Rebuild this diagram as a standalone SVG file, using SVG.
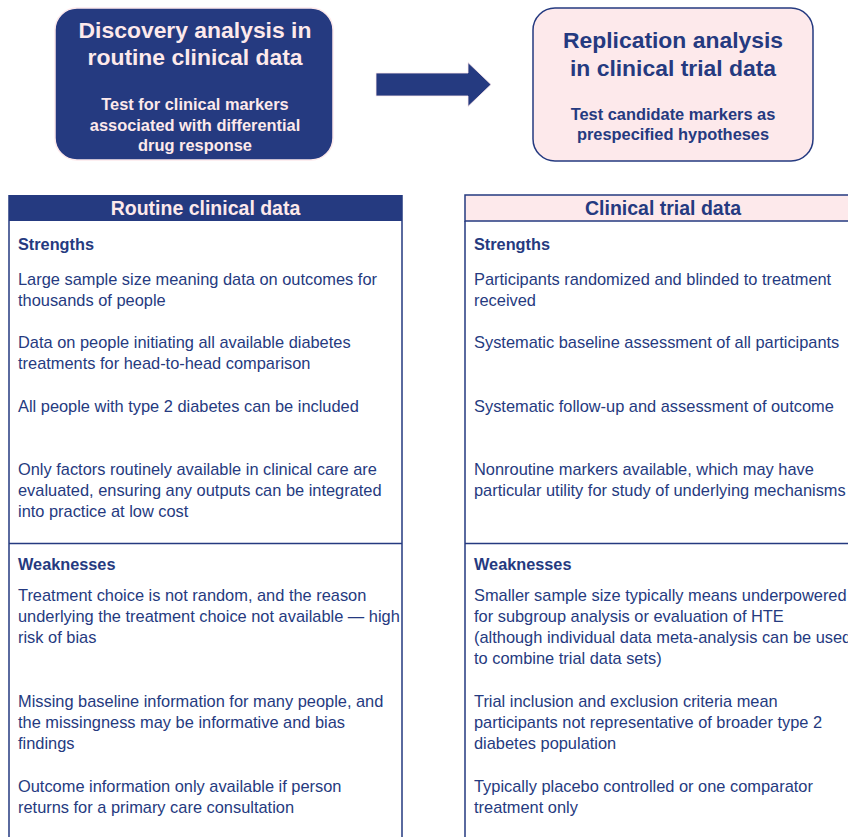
<svg xmlns="http://www.w3.org/2000/svg" width="848" height="837" viewBox="0 0 848 837">
  <style>
    .title { font-family: "Liberation Sans", Arial, sans-serif; font-weight: bold; font-size: 22.9px; text-anchor: middle; }
    .sub { font-family: "Liberation Sans", Arial, sans-serif; font-weight: bold; font-size: 16.4px; text-anchor: middle; }
    .head { font-family: "Liberation Sans", Arial, sans-serif; font-weight: bold; font-size: 19.5px; text-anchor: middle; }
    .sec { font-family: "Liberation Sans", Arial, sans-serif; font-weight: bold; font-size: 16.3px; fill: #253a80; }
    .body { font-family: "Liberation Sans", Arial, sans-serif; font-size: 16.4px; fill: #253a80; }
    .light { fill: #fde9eb; }
    .dark { fill: #253a80; }
    .rule { stroke: #253a80; stroke-width: 1.5; fill: none; }
  </style>
  <rect width="848" height="837" fill="#ffffff"/>

  <!-- Discovery box -->
  <g id="discovery">
    <rect x="55" y="8" width="278" height="152" rx="22" fill="#253a80" stroke="#fde9eb" stroke-width="1.5"/>
    <text class="title light" x="195" y="38">Discovery analysis in</text>
    <text class="title light" x="195" y="65">routine clinical data</text>
    <text class="sub light" x="195" y="110">Test for clinical markers</text>
    <text class="sub light" x="195" y="131">associated with differential</text>
    <text class="sub light" x="195" y="151">drug response</text>
  </g>

  <!-- Connector arrow -->
  <g id="connectors">
    <polygon points="376,73 468,73 468,62.5 491,84.5 468,106.5 468,96 376,96" fill="#253a80" stroke="#fde9eb" stroke-width="0.8"/>
  </g>

  <!-- Replication box -->
  <g id="replication">
    <rect x="533" y="8" width="280" height="153" rx="22" fill="#fde9eb" stroke="#253a80" stroke-width="1.5"/>
    <text class="title dark" x="673" y="48">Replication analysis</text>
    <text class="title dark" x="673" y="76">in clinical trial data</text>
    <text class="sub dark" x="673" y="120">Test candidate markers as</text>
    <text class="sub dark" x="673" y="140">prespecified hypotheses</text>
  </g>

  <!-- Routine clinical data table -->
  <g id="routine-table">
    <rect x="9" y="195" width="393" height="26" fill="#253a80"/>
    <text class="head light" x="205.5" y="215">Routine clinical data</text>
    <path class="rule" d="M9,195 V837 M402,195 V837 M9,543.5 H402"/>
    <text class="sec" x="18" y="250">Strengths</text>
    <text class="body" x="18" y="285">Large sample size meaning data on outcomes for</text>
    <text class="body" x="18" y="306">thousands of people</text>
    <text class="body" x="18" y="348">Data on people initiating all available diabetes</text>
    <text class="body" x="18" y="369">treatments for head-to-head comparison</text>
    <text class="body" x="18" y="412">All people with type 2 diabetes can be included</text>
    <text class="body" x="18" y="475">Only factors routinely available in clinical care are</text>
    <text class="body" x="18" y="496">evaluated, ensuring any outputs can be integrated</text>
    <text class="body" x="18" y="517">into practice at low cost</text>
    <text class="sec" x="18" y="570">Weaknesses</text>
    <text class="body" x="18" y="601">Treatment choice is not random, and the reason</text>
    <text class="body" x="18" y="622">underlying the treatment choice not available — high</text>
    <text class="body" x="18" y="643">risk of bias</text>
    <text class="body" x="18" y="707">Missing baseline information for many people, and</text>
    <text class="body" x="18" y="728">the missingness may be informative and bias</text>
    <text class="body" x="18" y="749">findings</text>
    <text class="body" x="18" y="792">Outcome information only available if person</text>
    <text class="body" x="18" y="813">returns for a primary care consultation</text>
  </g>

  <!-- Clinical trial data table -->
  <g id="trial-table">
    <rect x="465" y="195" width="390" height="26" fill="#fde9eb" stroke="#253a80" stroke-width="1.5"/>
    <text class="head dark" x="663" y="215">Clinical trial data</text>
    <path class="rule" d="M465,221 V837 M465,543.5 H848"/>
    <text class="sec" x="474" y="250">Strengths</text>
    <text class="body" x="474" y="285">Participants randomized and blinded to treatment</text>
    <text class="body" x="474" y="306">received</text>
    <text class="body" x="474" y="348">Systematic baseline assessment of all participants</text>
    <text class="body" x="474" y="412">Systematic follow-up and assessment of outcome</text>
    <text class="body" x="474" y="475">Nonroutine markers available, which may have</text>
    <text class="body" x="474" y="496">particular utility for study of underlying mechanisms</text>
    <text class="sec" x="474" y="570">Weaknesses</text>
    <text class="body" x="474" y="601">Smaller sample size typically means underpowered</text>
    <text class="body" x="474" y="622">for subgroup analysis or evaluation of HTE</text>
    <text class="body" x="474" y="643">(although individual data meta-analysis can be used</text>
    <text class="body" x="474" y="664">to combine trial data sets)</text>
    <text class="body" x="474" y="707">Trial inclusion and exclusion criteria mean</text>
    <text class="body" x="474" y="728">participants not representative of broader type 2</text>
    <text class="body" x="474" y="749">diabetes population</text>
    <text class="body" x="474" y="792">Typically placebo controlled or one comparator</text>
    <text class="body" x="474" y="813">treatment only</text>
  </g>
</svg>
